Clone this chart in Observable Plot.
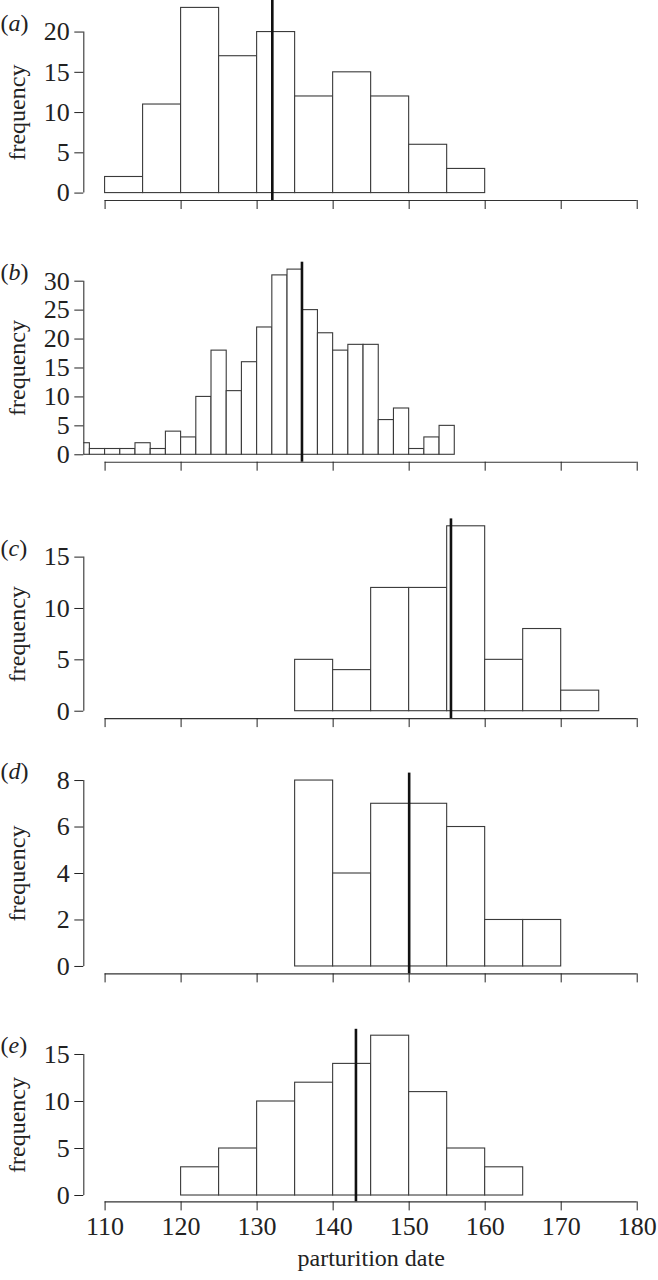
<!DOCTYPE html>
<html><head><meta charset="utf-8">
<script src="https://cdn.jsdelivr.net/npm/d3@7"></script>
<script src="https://cdn.jsdelivr.net/npm/@observablehq/plot@0.6"></script>
<style>
html,body{margin:0;padding:0;background:#fff;}
#chart svg{display:block;}
</style></head><body><div id="chart"></div>
<script>
// ---- data ----
const xTicks = [110, 120, 130, 140, 150, 160, 170, 180];
const xLabel = "parturition date";
const yLabel = "frequency";
const panelLetters = ["a", "b", "c", "d", "e"];

const binStarts = [110, 106, 135, 135, 120];
const binWidths = [5, 2, 5, 5, 5];

const countsA = [2, 11, 23, 17, 20, 12, 15, 12, 6, 3];
const countsB = [2, 1, 1, 1, 2, 1, 4, 3, 10, 18, 11, 16, 22, 31, 32, 25, 21, 18, 19, 19, 6, 8, 1, 3, 5];
const countsC = [5, 4, 12, 12, 18, 5, 8, 2];
const countsD = [8, 4, 7, 7, 6, 2, 2];
const countsE = [3, 5, 10, 12, 14, 17, 11, 5, 3];

const means = [132, 135.9, 155.5, 150, 143];

const yTicksA = [0, 5, 10, 15, 20];
const yTicksB = [0, 5, 10, 15, 20, 25, 30];
const yTicksC = [0, 5, 10, 15];
const yTicksD = [0, 2, 4, 6, 8];
const yTicksE = [0, 5, 10, 15];

// ---- layout ----
const layout = [
  {height: 235, marginTop: 0, marginBottom: 35},
  {height: 260, marginTop: 26.7, marginBottom: 33.3},
  {height: 250, marginTop: 23.4, marginBottom: 26.9},
  {height: 260, marginTop: 27.6, marginBottom: 31.6},
  {height: 275, marginTop: 23.8, marginBottom: 78.6}
];

const countsList = [countsA, countsB, countsC, countsD, countsE];
const yTicksList = [yTicksA, yTicksB, yTicksC, yTicksD, yTicksE];
const font = "'Liberation Serif', 'Times New Roman', Times, serif";

const xMin = d3.min(xTicks), xMax = d3.max(xTicks);
const xPad = 0.04 * (xMax - xMin);
const xDomain = [xMin - xPad, xMax + xPad];

function panel(i) {
  const counts = countsList[i];
  const start = binStarts[i], w = binWidths[i];
  const bins = counts.map((c, j) => ({x1: start + j * w, x2: start + (j + 1) * w, count: c}));
  const maxC = d3.max(counts);
  const yDomain = [-0.04 * maxC, 1.04 * maxC];
  const ticks = yTicksList[i];
  const topTick = d3.max(ticks);
  const isLast = i === countsList.length - 1;
  const L = layout[i];
  const marks = [
    Plot.rectY(bins, {x1: "x1", x2: "x2", y: "count", fill: "white", stroke: "#3a3a3a", strokeWidth: 1.1, inset: 0, clip: true}),
    Plot.ruleX([means[i]], {stroke: "#111", strokeWidth: 2.6}),
    Plot.ruleY([yDomain[0]], {x1: xMin, x2: xMax, stroke: "#333", strokeWidth: 1.1}),
    Plot.ruleX([xDomain[0]], {y1: d3.min(ticks), y2: topTick, stroke: "#333", strokeWidth: 1.1}),
    Plot.axisX(xTicks, {tickSize: 9, tickPadding: 6, label: null, fontSize: 26, tickFormat: isLast ? (d => String(d)) : (() => "")}),
    Plot.axisY(ticks, {tickSize: 9, tickPadding: 5, label: null, fontSize: 26}),
    Plot.text([topTick / 2], {y: d => d, text: () => yLabel, frameAnchor: "left", dx: -66, rotate: -90, textAnchor: "middle", fontSize: 24}),
    Plot.text([topTick], {y: d => d, text: () => "(" + panelLetters[i] + ")", frameAnchor: "left", dx: -83.3, dy: -9, textAnchor: "start", fontSize: 24})
  ];
  if (isLast) {
    marks.push(Plot.text([xLabel], {text: d => d, frameAnchor: "bottom", dy: 64, fontSize: 24}));
  }
  const svg = Plot.plot({
    width: 658,
    height: L.height,
    marginTop: L.marginTop,
    marginBottom: L.marginBottom,
    marginLeft: 83.3,
    marginRight: 0,
    style: {fontFamily: font, fontSize: "24px", color: "#222", background: "white", overflow: "visible"},
    x: {domain: xDomain},
    y: {domain: yDomain},
    marks
  });
  d3.select(svg).selectAll("text").style("font-family", font);
  d3.select(svg).selectAll("text").filter(function () {
    return this.textContent === "(" + panelLetters[i] + ")";
  }).each(function () {
    const t = d3.select(this);
    t.text("");
    t.append("tspan").text("(");
    t.append("tspan").attr("font-style", "italic").text(panelLetters[i]);
    t.append("tspan").text(")");
  });
  return svg;
}

const root = document.getElementById("chart");
for (let i = 0; i < countsList.length; i++) root.appendChild(panel(i));
</script>
</body></html>
